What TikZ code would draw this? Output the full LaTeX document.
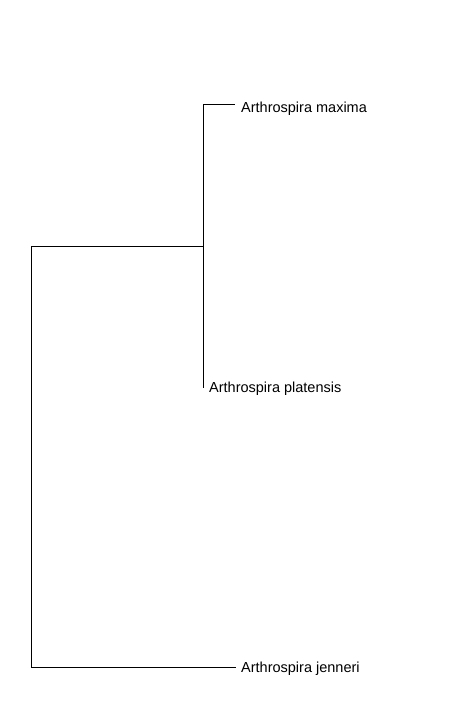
\documentclass[tikz,border=0pt]{standalone}
\usepackage{fontspec}
\setmainfont{Liberation Sans}
\begin{document}
\begin{tikzpicture}[x=1pt,y=-1pt,
  branch/.style={line width=1pt, line cap=rect},
  leaf/.style={anchor=base west, inner sep=0pt, font=\fontsize{14.5}{17}\selectfont}]
\useasboundingbox (0,0) rectangle (466,722);
\coordinate (root) at (31,246);
\coordinate (rootlo) at (31,667);
\coordinate (inner) at (203,246);
\coordinate (innerhi) at (203,105);
\coordinate (innerlo) at (203,387);
\coordinate (maxtip) at (234,105);
\coordinate (jentip) at (235,667);
\node[leaf] (max) at (241,112.7) {Arthrospira maxima};
\node[leaf] (pla) at (209,392.7) {Arthrospira platensis};
\node[leaf] (jen) at (241,672.7) {Arthrospira jenneri};
\draw[branch] (jentip) -- (rootlo) -- (root) -- (inner);
\draw[branch] (maxtip) -- (innerhi) -- (innerlo);
\end{tikzpicture}
\end{document}
